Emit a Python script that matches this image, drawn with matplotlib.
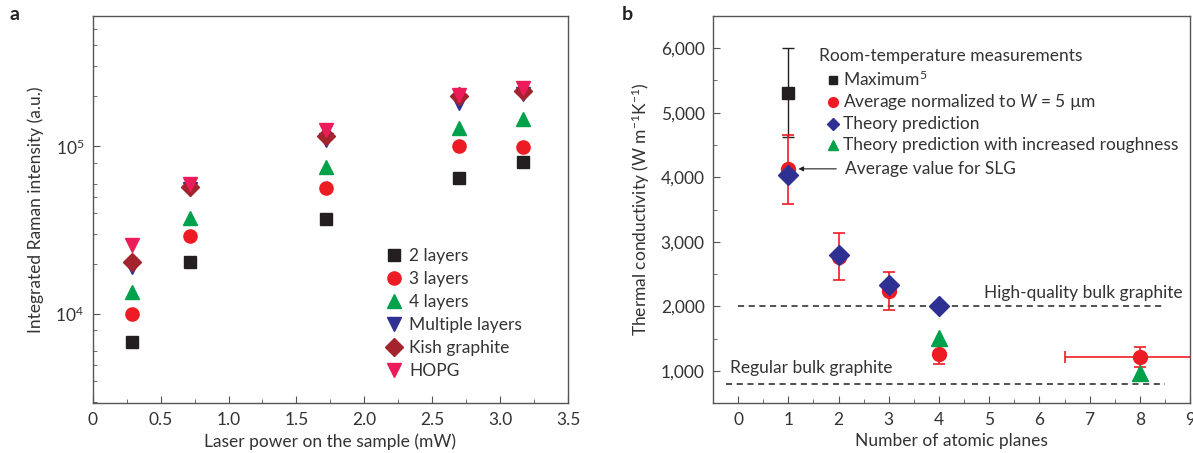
import numpy as np
import matplotlib
matplotlib.use("Agg")
import matplotlib.pyplot as plt
from matplotlib.ticker import MultipleLocator, LogLocator, NullFormatter, FuncFormatter

plt.rcParams['font.family'] = ['Lato', 'DejaVu Sans']
plt.rcParams['mathtext.fontset'] = 'custom'
plt.rcParams['mathtext.rm'] = 'Lato'
plt.rcParams['mathtext.it'] = 'Lato:italic'
TXT = '#333333'
SPINE = '#555555'

# ---- panel a data: Raman intensity vs laser power ----
power = [0.29, 0.72, 1.72, 2.70, 3.17]
layers2 = [6800, 20400, 36700, 64800, 80300]
layers3 = [10000, 29400, 56500, 100500, 98600]
layers4 = [13600, 37600, 75700, 128000, 145000]
multi = [19000, 55500, 109000, 182000, 204000]
kish = [20400, 57500, 115000, 199000, 214000]
hopg = [25800, 59700, 126000, 202000, 224000]

# ---- panel b data: thermal conductivity vs number of planes ----
max_n = [1]
max_k = [5300]
max_err_lo = [680]
max_err_hi = [700]
avg_n = [1, 2, 3, 4, 8]
avg_k = [4120, 2760, 2240, 1260, 1220]
avg_err_lo = [540, 350, 290, 160, 155]
avg_err_hi = [530, 380, 290, 140, 155]
avg_xerr = [0, 0, 0, 0, 1.5]
theory_n = [1, 2, 3, 4]
theory_k = [4030, 2790, 2330, 2000]
rough_n = [4, 8]
rough_k = [1510, 975]
high_quality = 2000
regular = 800

fig = plt.figure(figsize=(11.93, 4.53), dpi=100)
ax1 = fig.add_axes([0.0777, 0.110, 0.3985, 0.855])
ax2 = fig.add_axes([0.5977, 0.110, 0.3998, 0.855])

for ax in (ax1, ax2):
    for s in ax.spines.values():
        s.set_color(SPINE)
        s.set_linewidth(1.0)
    ax.tick_params(which='both', direction='in', colors=SPINE, labelcolor=TXT,
                   labelsize=12.5, top=False, right=False)
    ax.tick_params(which='major', length=5, pad=6)
    ax.tick_params(which='minor', length=3)

# panel a
ms = 9.5
ax1.plot(power, layers2, 's', color='#231f20', ms=8.5, ls='none', label='2 layers')
ax1.plot(power, layers3, 'o', color='#ed1c24', ms=ms, ls='none', label='3 layers')
ax1.plot(power, layers4, '^', color='#00a14b', ms=ms + 1, ls='none', label='4 layers')
ax1.plot(power, multi, 'v', color='#2e3192', ms=ms + 1, ls='none', label='Multiple layers')
ax1.plot(power, kish, 'D', color='#a3232e', ms=9, ls='none', label='Kish graphite')
ax1.plot(power, hopg, 'v', color='#ec1c5a', ms=ms + 1, ls='none', label='HOPG')
ax1.set_yscale('log')
ax1.set_xlim(0, 3.5)
ax1.set_ylim(2950, 600000)
ax1.xaxis.set_major_locator(MultipleLocator(0.5))
ax1.xaxis.set_minor_locator(MultipleLocator(0.25))
ax1.xaxis.set_major_formatter(FuncFormatter(lambda v, p: '0' if v == 0 else f'{v:.1f}'))
ax1.yaxis.set_major_locator(LogLocator(base=10, numticks=10))
ax1.yaxis.set_minor_locator(LogLocator(base=10, subs=(2, 3, 4, 5, 6, 8), numticks=20))
ax1.yaxis.set_minor_formatter(NullFormatter())
ax1.set_xlabel('Laser power on the sample (mW)', fontsize=12.5, color=TXT, labelpad=4)
ax1.set_ylabel('Integrated Raman intensity (a.u.)', fontsize=12.5, color=TXT, labelpad=8)
ax1.legend(loc='lower left', bbox_to_anchor=(0.6, 0.04), frameon=False, fontsize=12.5,
           handlelength=0.8, handletextpad=0.5, labelspacing=0.4, borderpad=0,
           labelcolor=TXT)

# panel b
ax2.errorbar(max_n, max_k, yerr=[max_err_lo, max_err_hi], fmt='s', color='#231f20',
             ms=9, elinewidth=1.0, capsize=4, capthick=1.0, zorder=3)
ax2.errorbar(avg_n, avg_k, yerr=[avg_err_lo, avg_err_hi], xerr=avg_xerr, fmt='o',
             color='#ed1c24', ms=10, elinewidth=1.2, capsize=4, capthick=1.2, zorder=4)
ax2.plot(theory_n, theory_k, 'D', color='#2e3192', ms=10, ls='none', zorder=5)
ax2.plot(rough_n, rough_k, '^', color='#00a14b', ms=11, ls='none', zorder=5)
ax2.plot([0, 8.5], [high_quality, high_quality], ls=(0, (4, 3)), color='#222222', lw=1.1)
ax2.plot([-0.25, 8.5], [regular, regular], ls=(0, (4, 3)), color='#222222', lw=1.1)
ax2.text(8.85, 2090, 'High-quality bulk graphite', ha='right', va='bottom', fontsize=12.5, color=TXT)
ax2.text(-0.17, 920, 'Regular bulk graphite', ha='left', va='bottom', fontsize=12.5, color=TXT)

# legend (manual, as in the figure)
ax2.text(1.62, 5880, 'Room-temperature measurements', fontsize=12.5, color=TXT, va='center')
leg_y = [5510, 5160, 4820, 4500]
leg_m = [('s', '#231f20', 6), ('o', '#ed1c24', 7), ('D', '#2e3192', 6), ('^', '#00a14b', 7)]
leg_t = ['Maximum$^{5}$', 'Average normalized to $W$ = 5 \u00b5m', 'Theory prediction',
         'Theory prediction with increased roughness']
for y, (m, c, s), t in zip(leg_y, leg_m, leg_t):
    ax2.plot([1.88], [y], m, color=c, ms=s)
    ax2.text(2.08, y, t, fontsize=12.5, color=TXT, va='center')
ax2.annotate('Average value for SLG', xy=(1.2, 4130), xytext=(2.12, 4130),
             fontsize=12.5, color=TXT, va='center',
             arrowprops=dict(arrowstyle='-|>', color='#222222', lw=0.8,
                             mutation_scale=7, shrinkA=4, shrinkB=0))

ax2.set_xlim(-0.5, 9)
ax2.set_ylim(500, 6500)
ax2.xaxis.set_major_locator(MultipleLocator(1))
ax2.xaxis.set_minor_locator(MultipleLocator(0.5))
ax2.yaxis.set_major_locator(MultipleLocator(1000))
ax2.yaxis.set_minor_locator(MultipleLocator(500))
ax2.yaxis.set_major_formatter(FuncFormatter(lambda v, p: f'{int(v):,}'))
ax2.set_xlabel('Number of atomic planes', fontsize=12.5, color=TXT, labelpad=4)
ax2.set_ylabel('Thermal conductivity (W m$^{-1}$K$^{-1}$)', fontsize=12.5, color=TXT, labelpad=6)

fig.text(0.008, 0.955, 'a', fontsize=14, fontweight='bold', color='#222222')
fig.text(0.521, 0.955, 'b', fontsize=14, fontweight='bold', color='#222222')

fig.savefig('out.png', dpi=100)
